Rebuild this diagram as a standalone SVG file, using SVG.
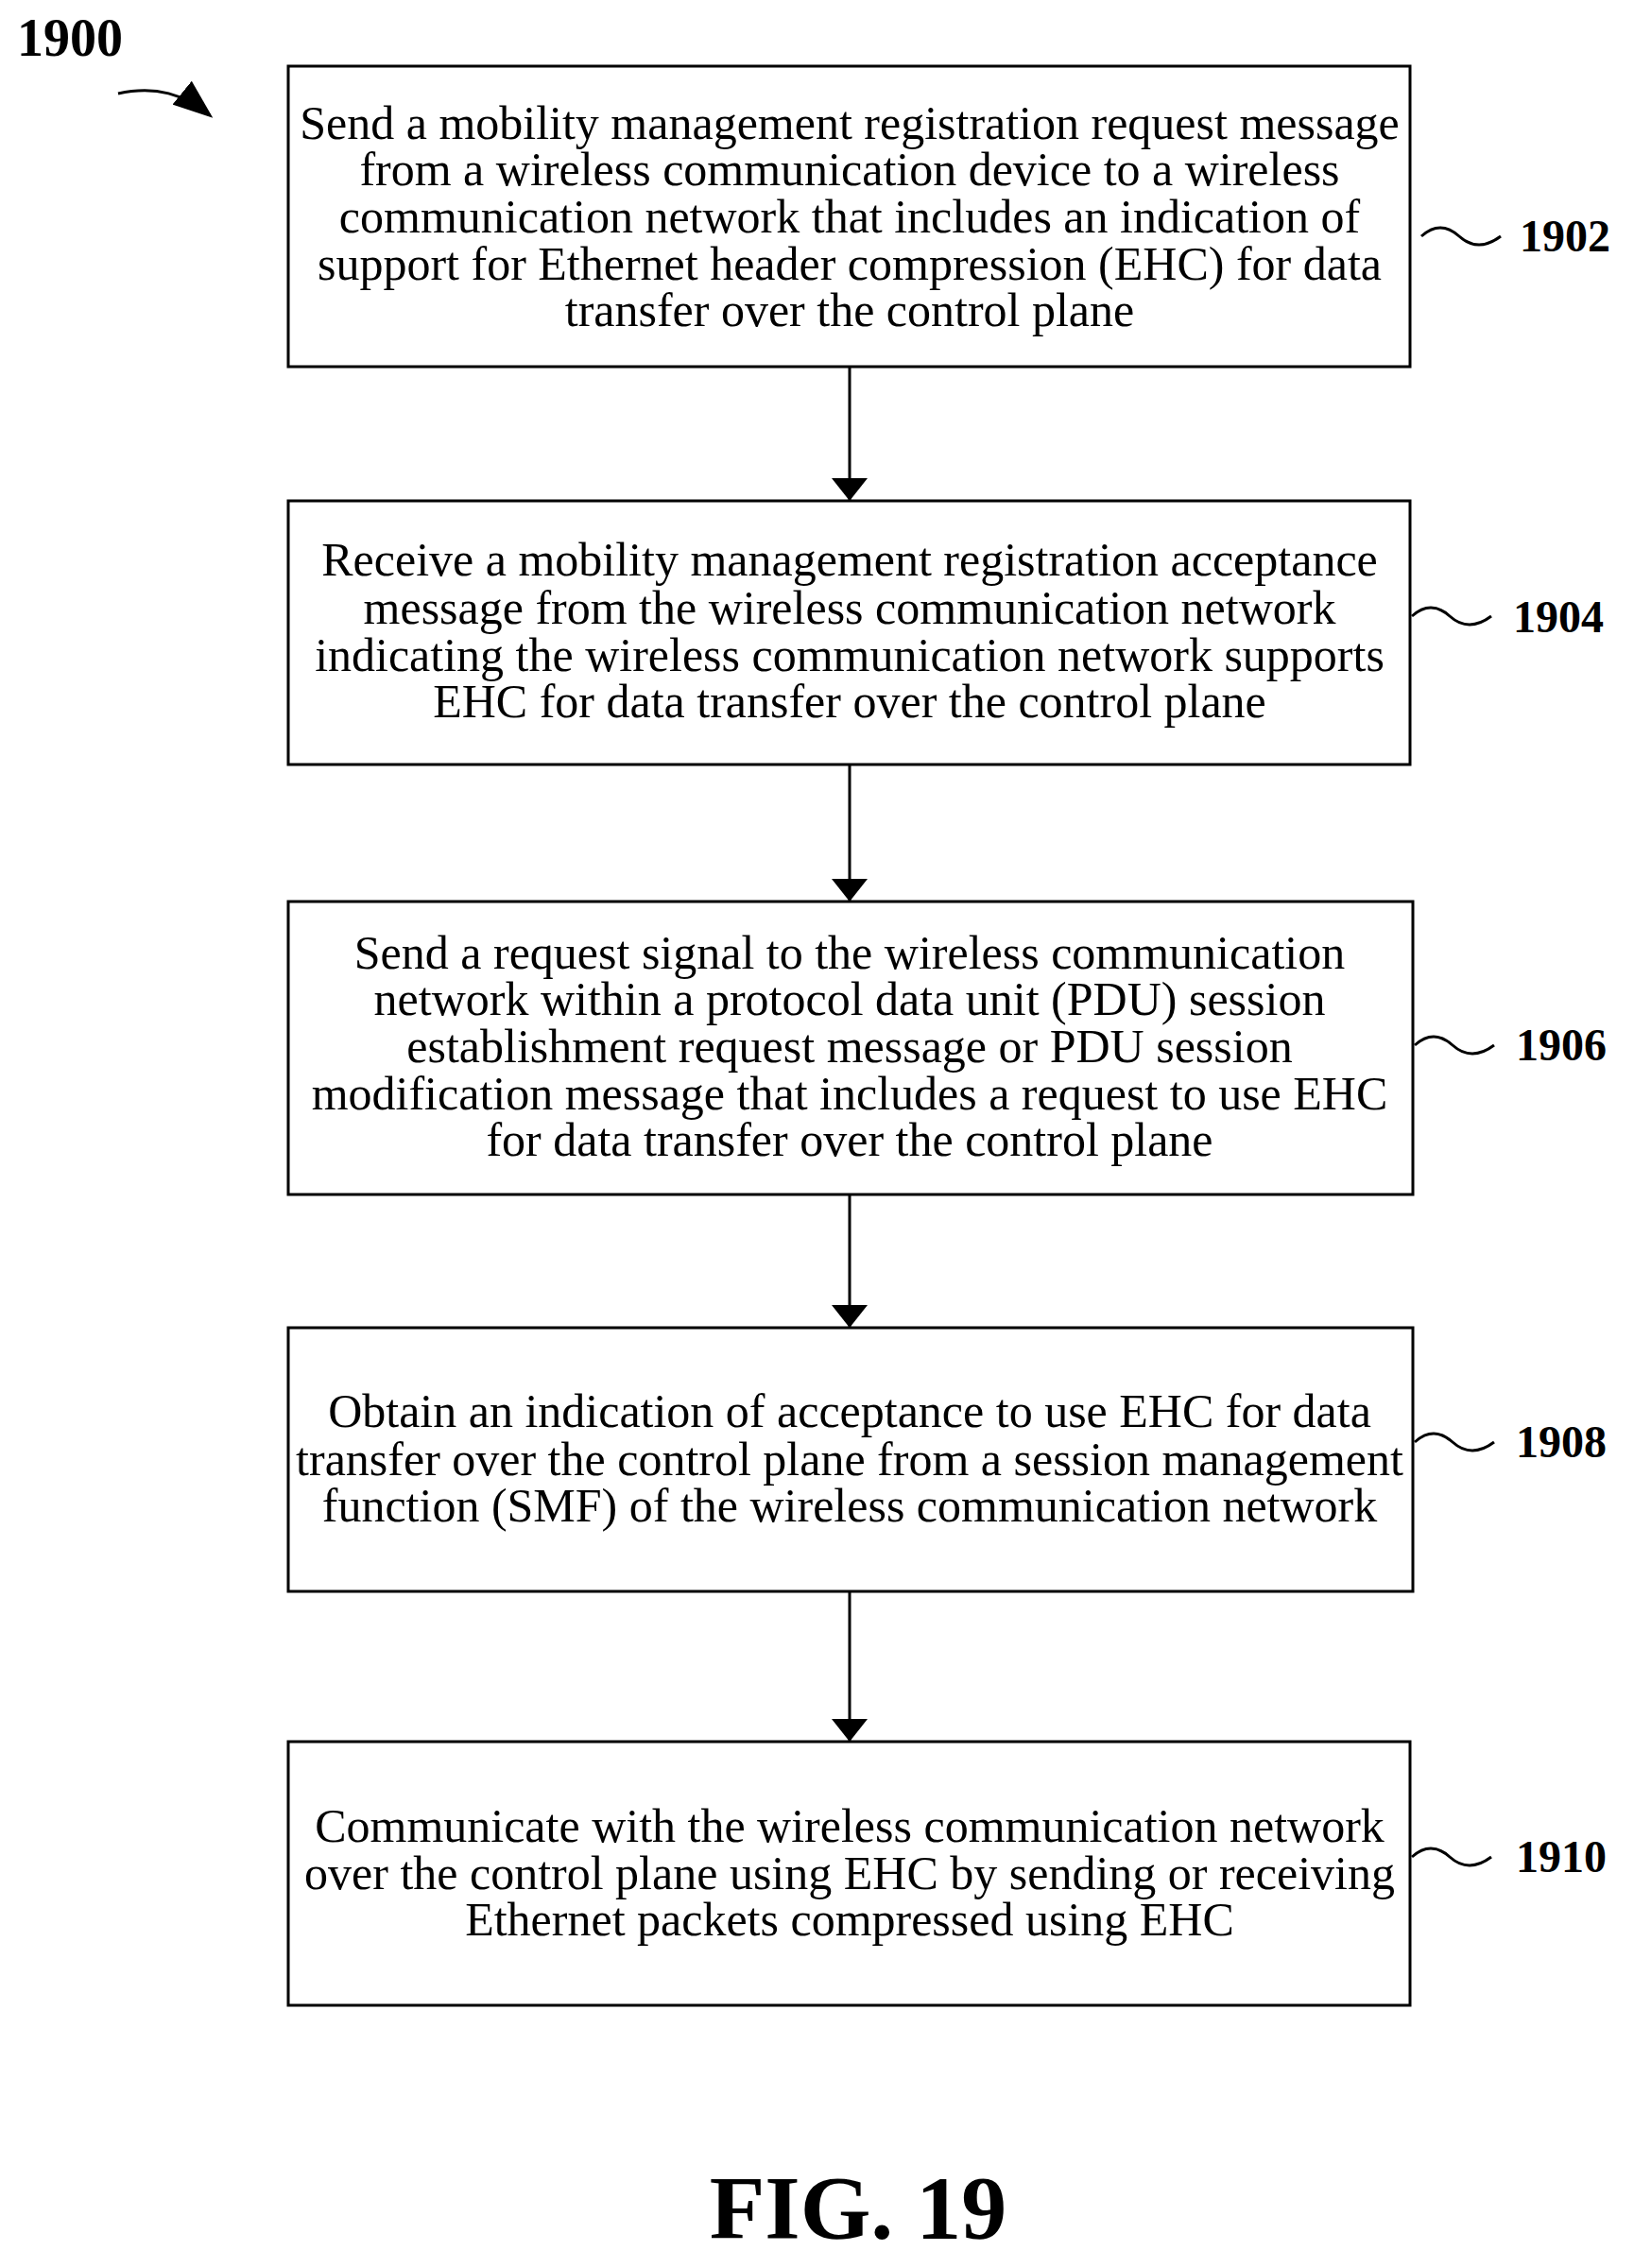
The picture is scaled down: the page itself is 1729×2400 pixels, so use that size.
<svg xmlns="http://www.w3.org/2000/svg" width="1729" height="2400" viewBox="0 0 1729 2400">
<style>
.b{fill:#fff;stroke:#000;stroke-width:3}
.t{font-family:"Liberation Serif",serif;font-size:50px;text-anchor:middle;dominant-baseline:central}
.l{font-family:"Liberation Serif",serif;font-size:48px;font-weight:bold;dominant-baseline:central}
.c{fill:none;stroke:#000;stroke-width:3}
</style>
<defs><marker id="a" markerWidth="24" markerHeight="38" refX="10" refY="5" orient="auto" markerUnits="userSpaceOnUse" viewBox="0 0 10 10" preserveAspectRatio="none"><path d="M0,0L10,5L0,10z"/></marker>
<marker id="a2" viewBox="0 0 10 10" refX="9" refY="5" markerWidth="42" markerHeight="32" orient="auto" markerUnits="userSpaceOnUse" preserveAspectRatio="none"><path d="M0,0L10,5L0,10z"/></marker></defs>
<text class="l" x="18" y="40" style="font-size:56px">1900</text>
<path class="c" d="M125,99 C165,90 195,100 222,122" marker-end="url(#a2)"/>
<g id="n1902"><rect class="b" x="305" y="70" width="1187" height="318"/>
<text class="t" x="899" y="130">Send a mobility management registration request message</text>
<text class="t" x="899" y="179">from a wireless communication device to a wireless</text>
<text class="t" x="899" y="229">communication network that includes an indication of</text>
<text class="t" x="899" y="279">support for Ethernet header compression (EHC) for data</text>
<text class="t" x="899" y="328">transfer over the control plane</text>
<path class="c" d="M1504,250 q20,-18 40,0 t44,0"/><text class="l" x="1608" y="249">1902</text></g>
<g id="n1904"><rect class="b" x="305" y="530" width="1187" height="279"/>
<text class="t" x="899" y="592">Receive a mobility management registration acceptance</text>
<text class="t" x="899" y="643">message from the wireless communication network</text>
<text class="t" x="899" y="693">indicating the wireless communication network supports</text>
<text class="t" x="899" y="742">EHC for data transfer over the control plane</text>
<path class="c" d="M1494,652 q20,-18 40,0 t44,0"/><text class="l" x="1601" y="652">1904</text></g>
<g id="n1906"><rect class="b" x="305" y="954" width="1190" height="310"/>
<text class="t" x="899" y="1008">Send a request signal to the wireless communication</text>
<text class="t" x="899" y="1057">network within a protocol data unit (PDU) session</text>
<text class="t" x="899" y="1107">establishment request message or PDU session</text>
<text class="t" x="899" y="1157">modification message that includes a request to use EHC</text>
<text class="t" x="899" y="1206">for data transfer over the control plane</text>
<path class="c" d="M1497,1106 q20,-18 40,0 t44,0"/><text class="l" x="1604" y="1105">1906</text></g>
<g id="n1908"><rect class="b" x="305" y="1405" width="1190" height="279"/>
<text class="t" x="899" y="1493">Obtain an indication of acceptance to use EHC for data</text>
<text class="t" x="899" y="1544">transfer over the control plane from a session management</text>
<text class="t" x="899" y="1593">function (SMF) of the wireless communication network</text>
<path class="c" d="M1497,1526 q20,-18 40,0 t44,0"/><text class="l" x="1604" y="1525">1908</text></g>
<g id="n1910"><rect class="b" x="305" y="1843" width="1187" height="279"/>
<text class="t" x="899" y="1932">Communicate with the wireless communication network</text>
<text class="t" x="899" y="1982">over the control plane using EHC by sending or receiving</text>
<text class="t" x="899" y="2031">Ethernet packets compressed using EHC</text>
<path class="c" d="M1494,1965 q20,-18 40,0 t44,0"/><text class="l" x="1604" y="1964">1910</text></g>
<g id="connectors">
<path class="c" d="M899,388V530" marker-end="url(#a)"/>
<path class="c" d="M899,809V954" marker-end="url(#a)"/>
<path class="c" d="M899,1264V1405" marker-end="url(#a)"/>
<path class="c" d="M899,1684V1843" marker-end="url(#a)"/>
</g>
<text x="908" y="2336" style="font-family:'Liberation Serif',serif;font-size:96px;font-weight:bold;text-anchor:middle;dominant-baseline:central">FIG. 19</text>
</svg>
